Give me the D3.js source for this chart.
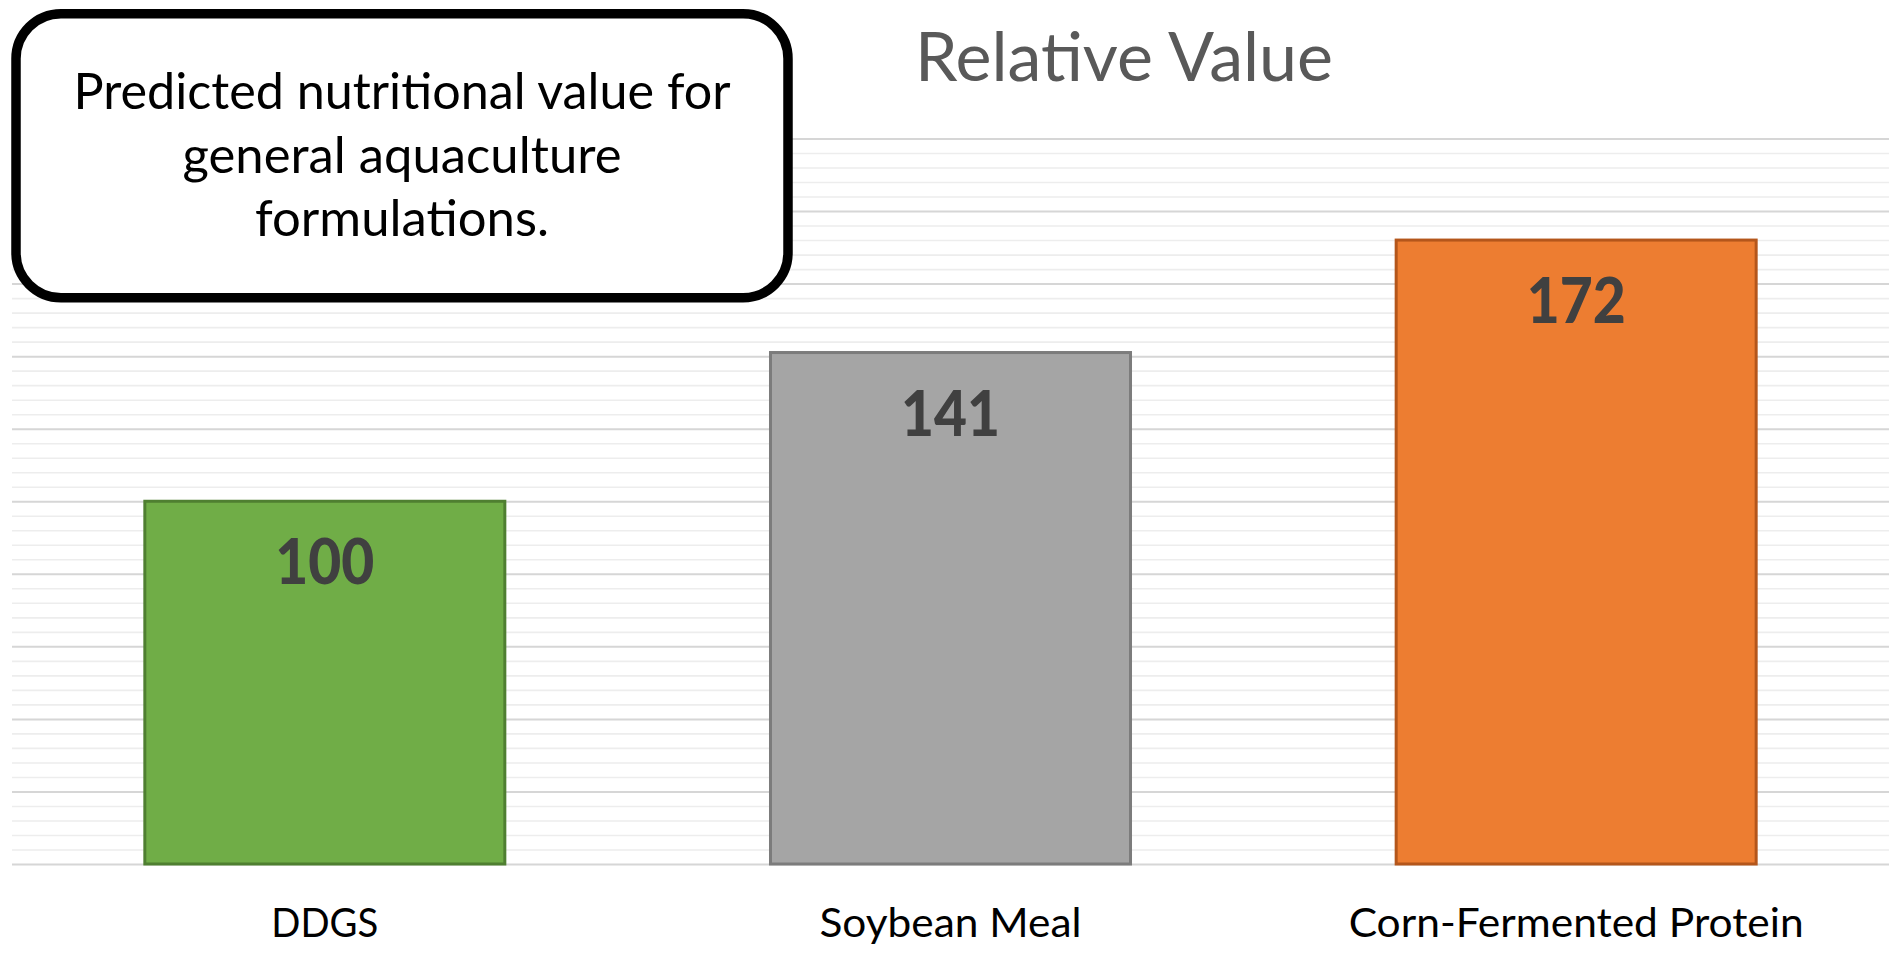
<!DOCTYPE html>
<html>
<head>
<meta charset="utf-8">
<script src="https://cdn.jsdelivr.net/npm/d3@7"></script>
<style>
  html, body { margin: 0; padding: 0; background: #ffffff; }
  svg { display: block; }
</style>
</head>
<body>
<svg id="chart" width="1890" height="964"></svg>
<script>
// ---- data ----
const categories = ["DDGS", "Soybean Meal", "Corn-Fermented Protein"];
const values = [100, 141, 172];
const barColors = ["#70AD47", "#A5A5A5", "#ED7D31"];
const barStrokes = ["#4F7F31", "#7C7C7C", "#B4561B"];
const yDomain = [0, 200];
const majorStep = 20;
const minorStep = 4;
const chartTitle = "Relative Value";
const noteLines = ["Predicted nutritional value for", "general aquaculture", "formulations."];

// ---- layout ----
const svg = d3.select("#chart");
const W = 1890, H = 964;
const plot = { left: 12, right: 1889, top: 138.5, bottom: 864 };

const x = d3.scaleBand()
  .domain(categories)
  .range([plot.left, plot.right])
  .paddingInner(0.4246)
  .paddingOuter(0.2123);

const y = d3.scaleLinear().domain(yDomain).range([plot.bottom, plot.top]);

const minorTicks = d3.range(yDomain[0], yDomain[1] + 0.001, minorStep).filter(v => v % majorStep !== 0);
const majorTicks = d3.range(yDomain[0], yDomain[1] + 0.001, majorStep);

// minor gridlines
svg.append("g")
  .attr("transform", `translate(${plot.left},0)`)
  .call(d3.axisLeft(y).tickValues(minorTicks).tickSize(-(plot.right - plot.left)).tickFormat(""))
  .call(g => g.select(".domain").remove())
  .call(g => g.selectAll("line").attr("stroke", "#EDEDED").attr("stroke-width", 1.6));

// major gridlines
svg.append("g")
  .attr("transform", `translate(${plot.left},0)`)
  .call(d3.axisLeft(y).tickValues(majorTicks).tickSize(-(plot.right - plot.left)).tickFormat(""))
  .call(g => g.select(".domain").remove())
  .call(g => g.selectAll("line").attr("stroke", "#D6D6D6").attr("stroke-width", 2));

// bars
svg.append("g").selectAll("rect")
  .data(values)
  .join("rect")
  .attr("x", (d, i) => x(categories[i]))
  .attr("y", d => y(d))
  .attr("width", x.bandwidth())
  .attr("height", d => y(0) - y(d))
  .attr("fill", (d, i) => barColors[i])
  .attr("stroke", (d, i) => barStrokes[i])
  .attr("stroke-width", 3);

// value labels
svg.append("g").selectAll("text")
  .data(values)
  .join("text")
  .attr("x", (d, i) => x(categories[i]) + x.bandwidth() / 2)
  .attr("y", d => y(d) + 83)
  .attr("text-anchor", "middle")
  .attr("font-family", "Lato, 'Open Sans', sans-serif")
  .attr("font-weight", 900)
  .attr("font-size", 62)
  .attr("fill", "#404040")
  .attr("textLength", 99)
  .attr("lengthAdjust", "spacingAndGlyphs")
  .text(d => d);

// category labels
const catWidths = [107, 262, 455];
svg.append("g").selectAll("text")
  .data(categories)
  .join("text")
  .attr("x", d => x(d) + x.bandwidth() / 2)
  .attr("y", 937)
  .attr("text-anchor", "middle")
  .attr("font-family", "Lato, 'Open Sans', sans-serif")
  .attr("font-size", 40)
  .attr("fill", "#000000")
  .attr("textLength", (d, i) => catWidths[i])
  .attr("lengthAdjust", "spacingAndGlyphs")
  .text(d => d);

// title
svg.append("text")
  .attr("x", 1124)
  .attr("y", 80.7)
  .attr("text-anchor", "middle")
  .attr("font-family", "Lato, 'Open Sans', sans-serif")
  .attr("font-size", 68)
  .attr("fill", "#595959")
  .attr("textLength", 418)
  .attr("lengthAdjust", "spacingAndGlyphs")
  .text(chartTitle);

// annotation box
svg.append("rect")
  .attr("x", 16).attr("y", 13.7)
  .attr("width", 772).attr("height", 284)
  .attr("rx", 45).attr("ry", 45)
  .attr("fill", "#ffffff")
  .attr("stroke", "#000000")
  .attr("stroke-width", 9.5);

const noteBaselines = [109, 172.5, 236];
const noteWidths = [657, 439, 294];
svg.append("g").selectAll("text")
  .data(noteLines)
  .join("text")
  .attr("x", 402)
  .attr("y", (d, i) => noteBaselines[i])
  .attr("text-anchor", "middle")
  .attr("font-family", "Lato, 'Open Sans', sans-serif")
  .attr("font-size", 50)
  .attr("fill", "#000000")
  .attr("textLength", (d, i) => noteWidths[i])
  .attr("lengthAdjust", "spacingAndGlyphs")
  .text(d => d);
</script>
</body>
</html>
